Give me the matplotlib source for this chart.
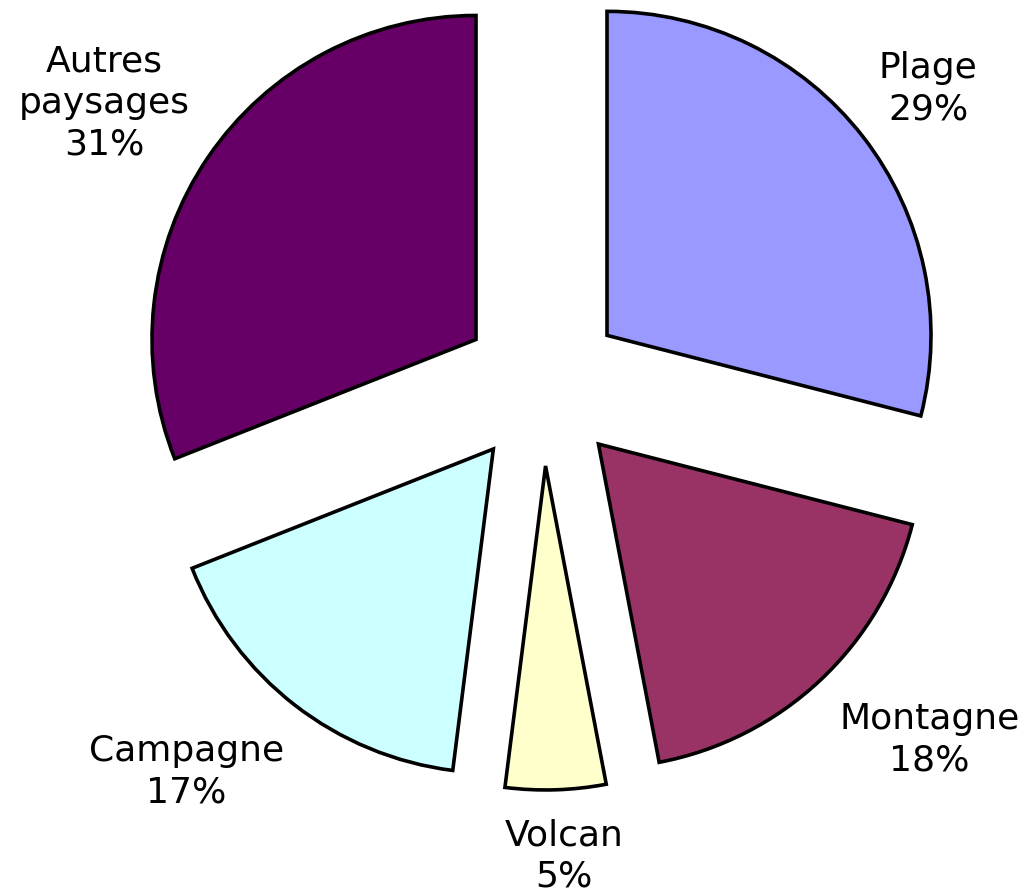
import matplotlib.pyplot as plt
import numpy as np

labels = ['Plage', 'Montagne', 'Volcan', 'Campagne', 'Autres\npaysages']
values = [29, 18, 5, 17, 31]
colors = ['#9999FF', '#993366', '#FFFFCC', '#CCFFFF', '#660066']

# label placement from the wedge tip: distance in radii, angle nudge in degrees
label_dist = [1.25, 1.37, 1.205, 1.375, 1.36]
label_turn = [-0.3, 5.0, 0.9, -5.8, 1.7]

W, H = 1028, 896
R = 324

fig = plt.figure(figsize=(W / 100, H / 100), dpi=100)
ax = fig.add_axes([0, 0, 1, 1])

wedges, _ = ax.pie(values, colors=colors, radius=R, center=(543, 511),
                   startangle=90, counterclock=False,
                   explode=[0.25 * R] * len(values), frame=True,
                   wedgeprops=dict(edgecolor='black', linewidth=2.6,
                                   joinstyle='miter'))
ax.set_xlim(0, W)
ax.set_ylim(0, H)
ax.axis('off')

for w, lab, v, d, da in zip(wedges, labels, values, label_dist, label_turn):
    a = np.deg2rad((w.theta1 + w.theta2) / 2 + da)
    cx, cy = w.center
    ax.text(cx + d * R * np.cos(a), cy + d * R * np.sin(a), f'{lab}\n{v}%',
            ha='center', va='center', fontsize=26, family='DejaVu Sans',
            linespacing=1.28)

fig.savefig('out.png', dpi=100)
